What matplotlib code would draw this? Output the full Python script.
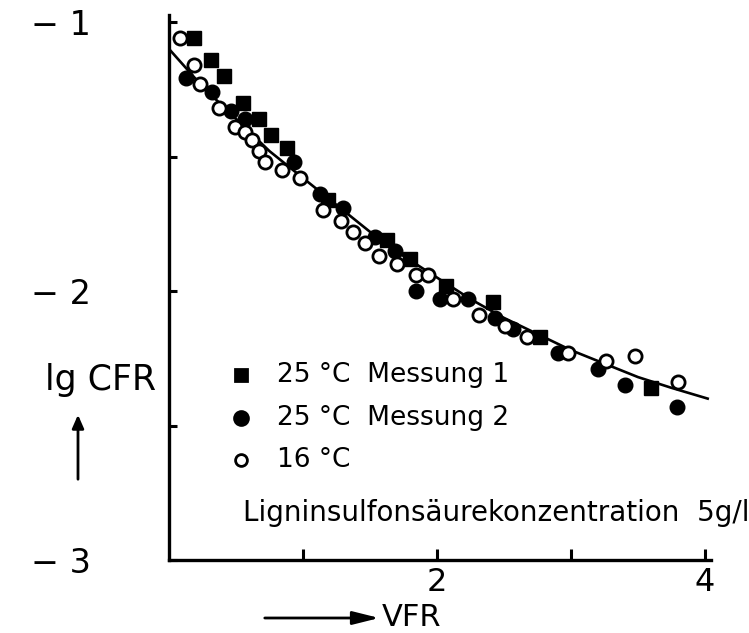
import matplotlib
matplotlib.use("Agg")
import matplotlib.pyplot as plt
from matplotlib.ticker import FixedLocator
from matplotlib.patches import FancyArrowPatch
from matplotlib.lines import Line2D

plt.rcParams['font.family'] = ['DejaVu Sans']

# ---- data ----
sq_x = [0.19, 0.31, 0.41, 0.55, 0.67, 0.76, 0.88, 1.19, 1.63, 1.80, 2.07, 2.42, 2.77, 3.60]
sq_y = [-1.06, -1.14, -1.20, -1.30, -1.36, -1.42, -1.47, -1.66, -1.81, -1.88, -1.98, -2.04, -2.17, -2.36]

fc_x = [0.13, 0.32, 0.46, 0.57, 0.93, 1.13, 1.30, 1.54, 1.69, 1.84, 2.02, 2.23, 2.43, 2.57, 2.90, 3.20, 3.40, 3.79]
fc_y = [-1.21, -1.26, -1.33, -1.36, -1.52, -1.64, -1.69, -1.80, -1.85, -2.00, -2.03, -2.03, -2.10, -2.14, -2.23, -2.29, -2.35, -2.43]

oc_x = [0.08, 0.19, 0.23, 0.37, 0.49, 0.57, 0.62, 0.67, 0.72, 0.84, 0.98, 1.15, 1.28, 1.37, 1.46, 1.57,
        1.70, 1.84, 1.93, 2.12, 2.31, 2.51, 2.67, 2.98, 3.26, 3.48, 3.80]
oc_y = [-1.06, -1.16, -1.23, -1.32, -1.39, -1.41, -1.44, -1.48, -1.52, -1.55, -1.58, -1.70, -1.74, -1.78, -1.82, -1.87,
        -1.90, -1.94, -1.94, -2.03, -2.09, -2.13, -2.17, -2.23, -2.26, -2.24, -2.34]

fit_x = [0.0, 0.25, 0.5, 0.75, 1.0, 1.25, 1.5, 1.75, 2.0, 2.25, 2.5, 2.75, 3.0, 3.25, 3.5, 3.75, 4.02]
fit_y = [-1.10, -1.24, -1.36, -1.48, -1.58, -1.68, -1.78, -1.87, -1.95, -2.03, -2.10, -2.16, -2.22, -2.27, -2.32, -2.36, -2.40]

y_major = [-1, -2, -3]
y_major_labels = ['− 1', '− 2', '− 3']
y_minor = [-1.5, -2.5]
x_ticks = [1, 2, 3, 4]
x_tick_labels = ['', '2', '', '4']

legend_labels = ['25 °C  Messung 1', '25 °C  Messung 2', '16 °C']
note = 'Ligninsulfonsäurekonzentration  5g/l'
y_label = 'lg CFR'
x_label = 'VFR'

# ---- figure ----
fig = plt.figure(figsize=(7.49, 6.33), dpi=100)
ax = fig.add_axes([0.2256, 0.1153, 0.7237, 0.861])
ax.set_xlim(0, 4.045)
ax.set_ylim(-3, -0.974)

for s in ['top', 'right']:
    ax.spines[s].set_visible(False)
for s in ['left', 'bottom']:
    ax.spines[s].set_linewidth(2.4)
    ax.spines[s].set_color('black')

ax.plot(fit_x, fit_y, color='black', lw=1.9, zorder=2)
ax.plot(sq_x, sq_y, ls='none', marker='s', ms=10, mfc='black', mec='black', zorder=3)
ax.plot(fc_x, fc_y, ls='none', marker='o', ms=10.5, mfc='black', mec='black', zorder=3)
ax.plot(oc_x, oc_y, ls='none', marker='o', ms=9.5, mfc='white', mec='black', mew=2.0, zorder=4)

ax.yaxis.set_major_locator(FixedLocator(y_major))
ax.set_yticklabels(y_major_labels)
ax.yaxis.set_minor_locator(FixedLocator(y_minor))
ax.set_xticks(x_ticks)
ax.set_xticklabels(x_tick_labels)

ax.tick_params(axis='y', which='both', direction='in', length=6, width=2.2, pad=56, labelsize=24)
ax.tick_params(axis='x', which='both', direction='in', length=8, width=2.2, pad=5, labelsize=23)

# axis labels with arrows
fig.text(101 / 749, 1 - 380 / 633, y_label, fontsize=25, ha='center', va='center')
fig.text(412 / 749, 1 - 618 / 633, x_label, fontsize=22, ha='center', va='center')
fig.add_artist(FancyArrowPatch(
    (78 / 749, 1 - 482 / 633), (78 / 749, 1 - 412 / 633), transform=fig.transFigure,
    arrowstyle='-|>,head_length=8,head_width=3.5', lw=2.0, color='black', mutation_scale=1))
fig.add_artist(FancyArrowPatch(
    (262 / 749, 1 - 618 / 633), (382 / 749, 1 - 618 / 633), transform=fig.transFigure,
    arrowstyle='-|>,head_length=16,head_width=4', lw=2.0, color='black', mutation_scale=1))

# hand-drawn legend
leg_y = [375, 418, 460]
leg_markers = [('s', 'black', 'black', 9), ('o', 'black', 'black', 10), ('o', 'white', 'black', 8.5)]
for (m, fc, ec, ms), yy, lab in zip(leg_markers, leg_y, legend_labels):
    fig.add_artist(Line2D([241 / 749], [1 - yy / 633], transform=fig.transFigure,
                          marker=m, ms=ms, mfc=fc, mec=ec, mew=2.0, ls='none'))
    fig.text(277 / 749, 1 - yy / 633, lab, fontsize=19, ha='left', va='center')

fig.text(243 / 749, 1 - 513 / 633, note, fontsize=20, ha='left', va='center')

fig.savefig('out.png', dpi=100)
